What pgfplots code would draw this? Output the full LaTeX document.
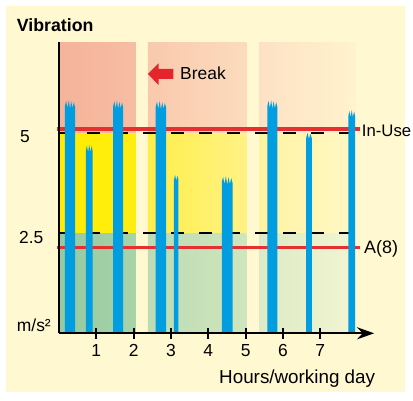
\documentclass[border=0pt]{standalone}
\usepackage{pgfplots}
\pgfplotsset{compat=1.18}
\usepackage{fontspec}
\setmainfont{Liberation Sans}
\usetikzlibrary{arrows.meta}
\definecolor{panel}{HTML}{FFF8D0}
\definecolor{barblue}{HTML}{009EE0}
\definecolor{linered}{HTML}{E5302F}
\definecolor{arrowred}{HTML}{E4262C}
\definecolor{sAtl}{HTML}{F5B39A}\definecolor{sAtr}{HTML}{F7BDA3}
\definecolor{sAml}{HTML}{FFEC00}\definecolor{sAmr}{HTML}{FFED12}
\definecolor{sAbl}{HTML}{95C9A0}\definecolor{sAbr}{HTML}{A8D3A9}
\definecolor{sBtl}{HTML}{F9C9AC}\definecolor{sBtr}{HTML}{FCDBBD}
\definecolor{sBml}{HTML}{FFEE48}\definecolor{sBmr}{HTML}{FFF285}
\definecolor{sBbl}{HTML}{BCDCB4}\definecolor{sBbr}{HTML}{CFE5BD}
\definecolor{sCtl}{HTML}{FDE1C5}\definecolor{sCtr}{HTML}{FFF3CC}
\definecolor{sCml}{HTML}{FFF3A0}\definecolor{sCmr}{HTML}{FFF8C6}
\definecolor{sCbl}{HTML}{DCEAC5}\definecolor{sCbr}{HTML}{F3F5D2}
\begin{document}
\fontsize{17.5}{21}\selectfont
\begin{tikzpicture}
\path[use as bounding box] (0,0) rectangle (413bp,401bp);
\fill[white] (0,0) rectangle (413bp,401bp);
\fill[panel] (6bp,9bp) rectangle (405bp,395bp);
\begin{axis}[
  at={(59bp,67.7bp)}, anchor=south west,
  scale only axis, width=315.1bp, height=291.2bp,
  xmin=0, xmax=8.44, ymin=0, ymax=7.28,
  axis lines=left, axis on top, clip=false,
  x axis line style={line width=2.2bp, -{Stealth[length=17bp,width=12bp]}},
  y axis line style={line width=2.2bp, -},
  xtick={1,2,3,4,5,6,7}, ytick=\empty,
  major tick length=11bp, tick align=center,
  every tick/.style={black, line width=1.8bp},
  /pgf/number format/assume math mode=true,
  tick label style={font=\fontsize{17.5}{21}\selectfont},
]
% strips: top zone
\addplot[draw=none, left color=sAtl, right color=sAtr] coordinates {(0,5) (2.06,5) (2.06,7.28) (0,7.28)} -- cycle;
\addplot[draw=none, left color=sBtl, right color=sBtr] coordinates {(2.38,5) (5.02,5) (5.02,7.28) (2.38,7.28)} -- cycle;
\addplot[draw=none, left color=sCtl, right color=sCtr] coordinates {(5.36,5) (7.95,5) (7.95,7.28) (5.36,7.28)} -- cycle;
% middle zone
\addplot[draw=none, left color=sAml, right color=sAmr] coordinates {(0,2.5) (2.06,2.5) (2.06,5) (0,5)} -- cycle;
\addplot[draw=none, left color=sBml, right color=sBmr] coordinates {(2.38,2.5) (5.02,2.5) (5.02,5) (2.38,5)} -- cycle;
\addplot[draw=none, left color=sCml, right color=sCmr] coordinates {(5.36,2.5) (7.95,2.5) (7.95,5) (5.36,5)} -- cycle;
% bottom zone
\addplot[draw=none, left color=sAbl, right color=sAbr] coordinates {(0,0) (2.06,0) (2.06,2.5) (0,2.5)} -- cycle;
\addplot[draw=none, left color=sBbl, right color=sBbr] coordinates {(2.38,0) (5.02,0) (5.02,2.5) (2.38,2.5)} -- cycle;
\addplot[draw=none, left color=sCbl, right color=sCbr] coordinates {(5.36,0) (7.95,0) (7.95,2.5) (5.36,2.5)} -- cycle;
% dashed limit lines
\addplot[black, line width=2.2bp, dash pattern=on 13bp off 15bp] coordinates {(0,5) (8.01,5)};
\addplot[black, line width=2.2bp, dash pattern=on 13bp off 15bp] coordinates {(0,2.5) (8.01,2.5)};
% red lines
\addplot[linered, line width=3.6bp] coordinates {(-0.045,5.1) (8.06,5.1)};
\addplot[linered, line width=3.6bp] coordinates {(-0.045,2.14) (8.06,2.14)};
% vibration bursts
\addplot[barblue, fill=barblue, draw=none] coordinates {(0.16,0)(0.16,5.68)(0.192,5.81)(0.228,5.63)(0.263,5.83)(0.295,5.61)(0.327,5.80)(0.363,5.63)(0.398,5.78)(0.43,5.65)(0.43,0)} -- cycle;
\addplot[barblue, fill=barblue, draw=none] coordinates {(0.72,0)(0.72,4.56)(0.747,4.69)(0.779,4.53)(0.81,4.71)(0.841,4.53)(0.873,4.68)(0.90,4.56)(0.90,0)} -- cycle;
\addplot[barblue, fill=barblue, draw=none] coordinates {(1.45,0)(1.45,5.67)(1.482,5.80)(1.518,5.62)(1.553,5.82)(1.585,5.60)(1.617,5.79)(1.653,5.62)(1.688,5.77)(1.72,5.64)(1.72,0)} -- cycle;
\addplot[barblue, fill=barblue, draw=none] coordinates {(2.59,0)(2.59,5.66)(2.624,5.79)(2.66,5.61)(2.696,5.81)(2.73,5.59)(2.764,5.78)(2.80,5.61)(2.836,5.76)(2.87,5.63)(2.87,0)} -- cycle;
\addplot[barblue, fill=barblue, draw=none] coordinates {(3.08,0)(3.08,3.84)(3.11,3.96)(3.14,3.81)(3.17,3.94)(3.20,3.83)(3.20,0)} -- cycle;
\addplot[barblue, fill=barblue, draw=none] coordinates {(4.36,0)(4.36,3.78)(4.395,3.91)(4.433,3.73)(4.47,3.93)(4.505,3.71)(4.54,3.90)(4.578,3.73)(4.615,3.88)(4.65,3.75)(4.65,0)} -- cycle;
\addplot[barblue, fill=barblue, draw=none] coordinates {(5.58,0)(5.58,5.68)(5.612,5.81)(5.648,5.63)(5.683,5.83)(5.715,5.61)(5.747,5.80)(5.783,5.63)(5.818,5.78)(5.85,5.65)(5.85,0)} -- cycle;
\addplot[barblue, fill=barblue, draw=none] coordinates {(6.62,0)(6.62,4.89)(6.658,5.01)(6.695,4.86)(6.733,4.99)(6.77,4.88)(6.77,0)} -- cycle;
\addplot[barblue, fill=barblue, draw=none] coordinates {(7.75,0)(7.75,5.43)(7.777,5.56)(7.809,5.40)(7.84,5.58)(7.871,5.40)(7.903,5.55)(7.93,5.43)(7.93,0)} -- cycle;
\end{axis}
% texts
\node[anchor=base west, inner sep=0, font=\bfseries\fontsize{17.8}{21}\selectfont] at (16.7bp,369.3bp) {Vibration};
\fill[arrowred] (148bp,327bp) -- (158.5bp,337.7bp) -- (158.5bp,332bp) -- (173.3bp,332bp) -- (173.3bp,322bp) -- (158.5bp,322bp) -- (158.5bp,316bp) -- cycle;
\node[anchor=base west, inner sep=0] at (180bp,321bp) {Break};
\node[anchor=base west, inner sep=0, font=\fontsize{16.8}{21}\selectfont] at (361.7bp,264.7bp) {In-Use};
\node[anchor=base west, inner sep=0, font=\fontsize{18}{21}\selectfont] at (364bp,147.7bp) {A(8)};
\node[anchor=base west, inner sep=0] at (20bp,258bp) {5};
\node[anchor=base west, inner sep=0] at (19bp,157bp) {2.5};
\node[anchor=base west, inner sep=0] at (16.7bp,69bp) {m/s²};
\node[anchor=base west, inner sep=0, font=\fontsize{18.9}{21}\selectfont] at (219bp,17.7bp) {Hours/working day};
\end{tikzpicture}
\end{document}
